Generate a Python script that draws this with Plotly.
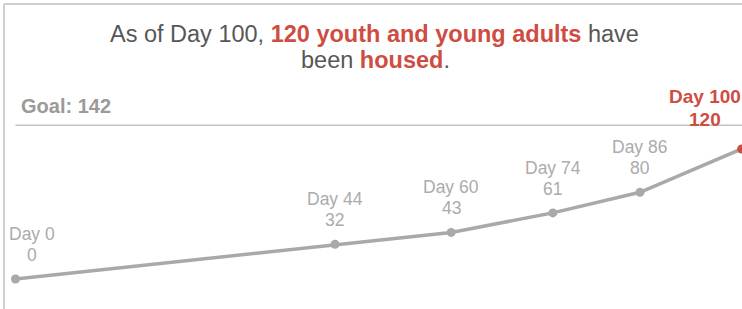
import plotly.graph_objects as go

days = [0, 44, 60, 74, 86, 100]
housed = [0, 32, 43, 61, 80, 120]
goal = 142
day_labels = ["Day 0", "Day 44", "Day 60", "Day 74", "Day 86", "Day 100"]

GRAY_LINE = "#a9a9a9"
LABEL_GRAY = "#ababab"
RED = "#cf4c43"
FONT = "Arial, Liberation Sans, sans-serif"

fig = go.Figure()

# goal line
fig.add_trace(go.Scatter(x=[days[0], 102], y=[goal, goal], mode="lines",
                         line=dict(color="#c4c4c4", width=1.5), hoverinfo="skip"))

fig.add_trace(go.Scatter(x=days, y=housed, mode="lines+markers",
                         line=dict(color=GRAY_LINE, width=3.5),
                         marker=dict(size=9, color=[GRAY_LINE] * (len(days) - 1) + [RED])))

for i, (d, v, lab) in enumerate(zip(days, housed, day_labels)):
    last = i == len(days) - 1
    xs = 0
    if i == 0:
        xs = 17
    if last:
        xs = -37
    col = RED if last else LABEL_GRAY
    size = 19 if last else 17.5
    weight = "bold" if last else "normal"
    y1, y2 = (52, 29) if last else (45, 24)
    fig.add_annotation(x=d, y=v, text=lab, showarrow=False,
                       xanchor="center", yanchor="middle", xshift=xs, yshift=y1,
                       font=dict(family=FONT, size=size, color=col, weight=weight))
    fig.add_annotation(x=d, y=v, text=str(v), showarrow=False,
                       xanchor="center", yanchor="middle", xshift=xs, yshift=y2,
                       font=dict(family=FONT, size=size, color=col, weight=weight))

fig.add_annotation(x=0, y=goal, text="<b>Goal: 142</b>", showarrow=False,
                   xanchor="left", yanchor="middle", xshift=4, yshift=19,
                   font=dict(family=FONT, size=20, color="#9a9a9a"))

fig.add_annotation(xref="paper", yref="paper", x=374 / 742, y=1 - 34 / 309,
                   xanchor="center", yanchor="middle", showarrow=False,
                   text=(f"As of Day 100, <b><span style='color:{RED}'>120 youth and young adults</span></b> have"),
                   font=dict(family=FONT, size=23.5, color="#575757"))
fig.add_annotation(xref="paper", yref="paper", x=375 / 742, y=1 - 60 / 309,
                   xanchor="center", yanchor="middle", showarrow=False,
                   text=(f"been <b><span style='color:{RED}'>housed</span></b>."),
                   font=dict(family=FONT, size=23.5, color="#575757"))

# frame
fig.add_shape(type="line", xref="paper", yref="paper", x0=4 / 742, x1=4 / 742, y0=0, y1=1 - 4 / 309,
              line=dict(color="#cfcfcf", width=2))
fig.add_shape(type="line", xref="paper", yref="paper", x0=4 / 742, x1=1, y0=1 - 4 / 309, y1=1 - 4 / 309,
              line=dict(color="#cfcfcf", width=2))

fig.update_layout(width=742, height=309, autosize=False,
                  margin=dict(l=0, r=0, t=0, b=0),
                  paper_bgcolor="white", plot_bgcolor="white",
                  showlegend=False,
                  xaxis=dict(range=[-2.13, 100.05], visible=False, fixedrange=True),
                  yaxis=dict(range=[-27.7, 257.5], visible=False, fixedrange=True))

fig.write_html("out.html", config={"displayModeBar": False},
               post_script="document.body.style.margin='0';document.body.style.overflow='hidden';")
